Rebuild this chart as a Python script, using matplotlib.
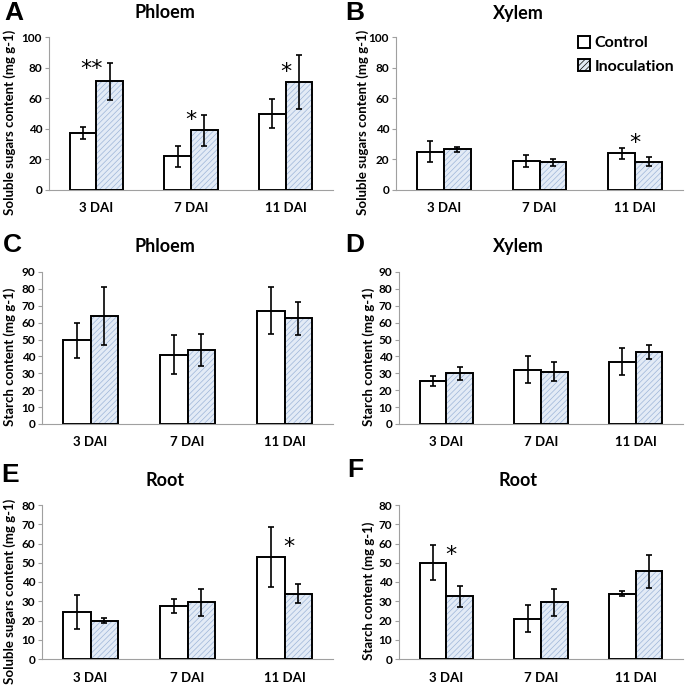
import numpy as np
import matplotlib
matplotlib.use('Agg')
import matplotlib.pyplot as plt
import matplotlib.patches as mpatches

plt.rcParams['font.family'] = ['Lato', 'DejaVu Sans']
plt.rcParams['font.weight'] = 'bold'
plt.rcParams['hatch.linewidth'] = 0.5

days = ['3 DAI', '7 DAI', '11 DAI']

# A - phloem soluble sugars
a_ctrl = [37.5, 22, 50]
a_ctrl_err = [4, 7, 9.5]
a_inoc = [71, 39, 70.5]
a_inoc_err = [12, 10, 17.5]
# B - xylem soluble sugars
b_ctrl = [25, 19, 24]
b_ctrl_err = [7, 4, 3.5]
b_inoc = [26.5, 18, 18.5]
b_inoc_err = [1.5, 2.5, 3]
# C - phloem starch
c_ctrl = [49.5, 41, 67]
c_ctrl_err = [10.5, 11.5, 14]
c_inoc = [64, 44, 62.5]
c_inoc_err = [17, 9.5, 10]
# D - xylem starch
d_ctrl = [25.5, 32, 37]
d_ctrl_err = [3, 8, 8]
d_inoc = [30, 31, 42.5]
d_inoc_err = [4, 5.5, 4]
# E - root soluble sugars
e_ctrl = [24.5, 27.5, 53]
e_ctrl_err = [9, 3.5, 15.5]
e_inoc = [20, 29.5, 34]
e_inoc_err = [1.5, 7, 5]
# F - root starch
f_ctrl = [50, 21, 34]
f_ctrl_err = [9, 7, 1.5]
f_inoc = [32.5, 29.5, 45.5]
f_inoc_err = [5.5, 7, 8.5]

sugar_label = 'Soluble sugars content (mg g-1)'
starch_label = 'Starch content (mg g-1)'

W = 685.0
HATCH_BG = '#e3ebf6'
HATCH_FG = '#9db5d8'


def box(left, top, right, bottom):
    return [left / W, 1 - bottom / W, (right - left) / W, (bottom - top) / W]


def panel(rect, ctrl, cerr, inoc, ierr, ymax, ystep, ylabel, stars, lab_x):
    ax = fig.add_axes(rect)
    x = np.arange(len(days))
    w = 0.28
    ekw = dict(ecolor='black', elinewidth=1.2, capsize=2, capthick=1.2)
    ax.bar(x - w / 2, ctrl, w, color='white', edgecolor='black', linewidth=1.4,
           yerr=cerr, error_kw=ekw, zorder=2)
    # hatch drawn in light blue, then black outline on top
    ax.bar(x + w / 2, inoc, w, color=HATCH_BG, edgecolor=HATCH_FG, linewidth=0,
           hatch='//////', zorder=2)
    ax.bar(x + w / 2, inoc, w, fill=False, edgecolor='black', linewidth=1.4,
           yerr=ierr, error_kw=ekw, zorder=3)
    for sx, sy, s in stars:
        ax.text(sx, sy, s, ha='center', va='center', fontsize=16, fontweight='normal',
                family='DejaVu Sans')
    ax.set_xlim(-0.5, 2.5)
    ax.set_ylim(0, ymax)
    ax.set_yticks(np.arange(0, ymax + 1, ystep))
    ax.set_xticks(x)
    ax.set_xticklabels(days, fontsize=9.5, fontweight='bold')
    ax.tick_params(axis='x', length=0, pad=9)
    ax.tick_params(axis='y', labelsize=8.5, length=3, color='#a0a0a0', pad=2)
    for s in ['top', 'right']:
        ax.spines[s].set_visible(False)
    for s in ['left', 'bottom']:
        ax.spines[s].set_color('#a0a0a0')
    ax.set_ylabel(ylabel, fontsize=9.5, fontweight='bold')
    # right edge of the rotated label, figure pixels -> axes fraction
    ax.yaxis.set_label_coords((lab_x / W - rect[0]) / rect[2], 0.44)
    return ax


fig = plt.figure(figsize=(6.85, 6.85), dpi=100)

panel(box(49, 37, 333, 190), a_ctrl, a_ctrl_err, a_inoc, a_inoc_err, 100, 20, sugar_label,
      [(-0.05, 79, '**'), (1.0, 46, '*'), (2.0, 77, '*')], 16)
axb = panel(box(396, 37, 683, 190), b_ctrl, b_ctrl_err, b_inoc, b_inoc_err, 100, 20, sugar_label,
            [(2.0, 31, '*')], 369)
panel(box(42, 272, 333, 424), c_ctrl, c_ctrl_err, c_inoc, c_inoc_err, 90, 10, starch_label, [], 16)
panel(box(399, 272, 683, 424), d_ctrl, d_ctrl_err, d_inoc, d_inoc_err, 90, 10, starch_label, [], 375)
panel(box(42, 505, 333, 659), e_ctrl, e_ctrl_err, e_inoc, e_inoc_err, 80, 10, sugar_label,
      [(2.05, 58, '*')], 16)
panel(box(399, 505, 683, 659), f_ctrl, f_ctrl_err, f_inoc, f_inoc_err, 80, 10, starch_label,
      [(0.05, 54, '*')], 375)

# legend proxies
h_ctrl = mpatches.Patch(facecolor='white', edgecolor='black', linewidth=1.4, label='Control')
h_inoc = mpatches.Patch(facecolor=HATCH_BG, edgecolor='black', linewidth=1.4, hatch='//////',
                        label='Inoculation')
axb.legend(handles=[h_ctrl, h_inoc], loc='upper right', bbox_to_anchor=(1.02, 1.1),
           frameon=False, fontsize=11.5, handlelength=0.75, handleheight=0.75,
           handletextpad=0.3, labelspacing=0.55)

titles = [('Phloem', 165, 13), ('Xylem', 518, 13), ('Phloem', 165, 246),
          ('Xylem', 518, 246), ('Root', 165, 481), ('Root', 518, 481)]
for t, px, py in titles:
    fig.text(px / W, 1 - py / W, t, ha='center', va='center', fontsize=13, fontweight='bold')

letters = [('A', 14, 13), ('B', 355, 13), ('C', 12, 245), ('D', 355, 245),
           ('E', 10, 475), ('F', 355, 470)]
for t, px, py in letters:
    fig.text(px / W, 1 - py / W, t, ha='center', va='center', fontsize=19, fontweight='bold',
             family='Liberation Sans')

fig.savefig('out.png', dpi=100)
